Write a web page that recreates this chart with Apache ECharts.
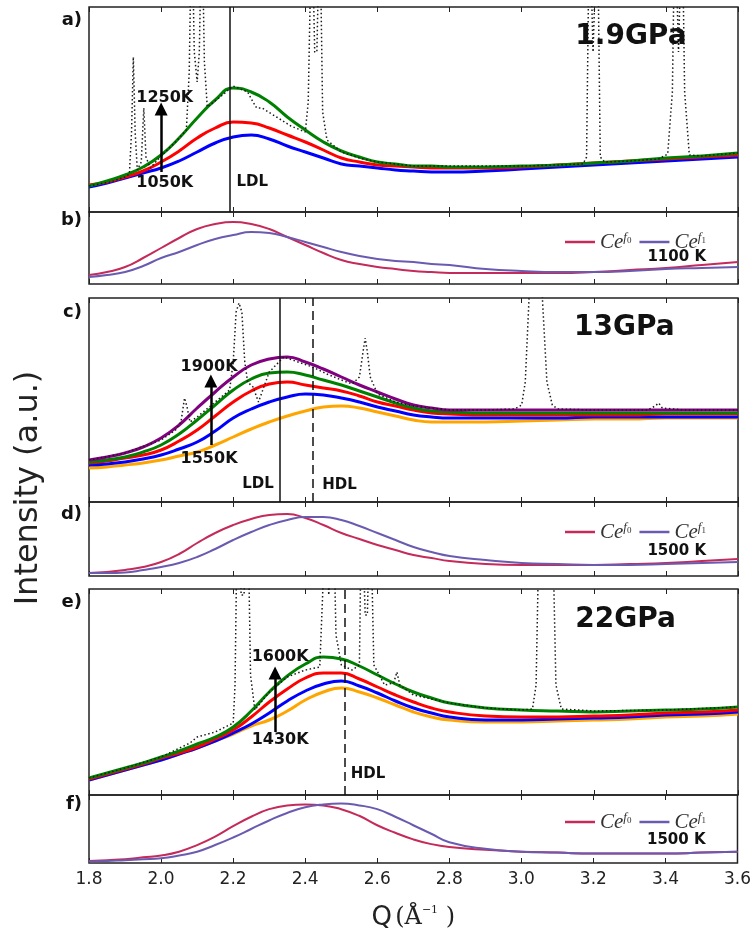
<!DOCTYPE html>
<html><head><meta charset="utf-8">
<script src="https://cdn.jsdelivr.net/npm/echarts@6/dist/echarts.min.js"></script>
<style>html,body{margin:0;padding:0;background:#fff}#c{width:754px;height:932px}</style>
</head><body><div id="c"></div>
<script>
// ---------- DATA ----------
const Q = [1.8,1.85,1.9,1.95,2.0,2.05,2.1,2.15,2.2,2.25,2.3,2.35,2.4,2.45,2.5,2.55,2.6,2.65,2.7,2.75,2.8,
           2.9,3.0,3.1,3.2,3.3,3.4,3.5,3.6];

// a) 1.9 GPa  (1050K blue, red, 1250K green)
const blueA  = [25,29,34,39,44,51,60,69,75,77,73,66,60,54,48,46,44,42,41,40,40, 41,43,45,47,49,51,53,55];
const redA   = [27,30,35,41,50,61,74,84,90,89,84,77,70,62,54,50,47,46,45,44,44, 44,45,47,49,51,53,55,57];
const greenA = [26,31,37,45,57,74,94,112,124,120,110,95,82,70,61,55,50,48,46,46,45, 45,46,47,49,51,54,56,59];
const dotA = [[1.8,26],[1.86,30],[1.9,35],[1.912,38],[1.918,80],[1.923,155],[1.928,80],[1.934,42],[1.945,50],[1.952,104],[1.958,55],[1.97,44],[2.0,56],[2.04,70],[2.07,82],[2.078,140],[2.085,300],[2.092,160],[2.1,130],[2.106,160],[2.113,300],[2.12,150],[2.128,105],[2.16,114],[2.2,126],[2.24,120],[2.255,110],[2.265,104],[2.28,104],[2.32,95],[2.36,86],[2.4,80],[2.408,110],[2.418,300],[2.426,160],[2.432,160],[2.44,300],[2.448,100],[2.46,72],[2.5,60],[2.55,54],[2.6,50],[2.7,46],[2.8,46],[3.0,46],[3.1,47],[3.17,48],[3.18,55],[3.188,300],[3.198,160],[3.202,160],[3.21,300],[3.218,55],[3.23,50],[3.3,51],[3.38,53],[3.405,58],[3.418,120],[3.425,300],[3.435,160],[3.44,160],[3.445,300],[3.452,120],[3.465,57],[3.5,56],[3.6,59]];

// b) 1100 K
const cephF0B = [9,12,17,26,36,46,55,60,62,60,55,47,39,31,24,20,17,15,13,12,11, 11,11,11,12,14,16,19,22];
const cephF1B = [7,9,12,18,26,32,39,45,49,52,51,47,42,37,32,28,25,23,22,20,19, 15,13,12,12,13,15,16,17];

// c) 13 GPa (1550K orange ... 1900K purple)
const purpleC = [42,45,49,55,64,77,94,110,125,137,143,145,140,133,125,117,110,103,97,94,92, 92,92,92,92,92,92,92,92];
const greenC  = [40,42,45,50,57,68,82,97,112,123,129,130,127,122,117,111,105,99,94,91,90, 89,89,89,89,89,89,89,89];
const redC    = [39,41,44,47,52,61,72,86,100,111,118,120,117,114,111,106,100,96,92,89,88, 87,87,87,87,87,88,88,88];
const blueC   = [37,38,40,43,47,53,60,71,84,93,100,105,108,107,104,100,95,91,87,85,84, 84,84,84,85,85,85,85,85];
const orangeC = [34,35,37,39,42,46,50,57,65,73,80,86,91,95,96,94,90,86,82,80,80, 80,81,82,83,83,84,84,84];
const dotC = [[1.8,42],[1.9,49],[2.0,62],[2.04,72],[2.055,80],[2.065,104],[2.072,95],[2.08,80],[2.1,85],[2.15,100],[2.19,112],[2.2,140],[2.208,190],[2.216,199],[2.224,190],[2.232,140],[2.24,120],[2.255,115],[2.27,100],[2.3,130],[2.34,145],[2.38,140],[2.42,135],[2.46,128],[2.5,122],[2.53,118],[2.55,125],[2.56,150],[2.566,164],[2.572,150],[2.58,125],[2.6,108],[2.65,100],[2.7,96],[2.8,92],[2.9,92],[2.98,93],[3.0,97],[3.01,120],[3.02,200],[3.028,300],[3.05,300],[3.058,200],[3.07,120],[3.085,97],[3.1,93],[3.2,92],[3.35,92],[3.37,96],[3.38,99],[3.39,94],[3.45,92],[3.6,92]];

// d) 1500 K
const cephF0D = [3,4,6,9,14,22,33,43,51,57,61,62,58,51,43,37,31,26,21,18,15, 12,11,11,11,12,13,15,17];
const cephF1D = [3,3,3.5,6,9,13,19,27,36,44,51,56,59,59,56,50,43,36,29,24,20, 16,13,12,11,11,12,13,14];

// e) 22 GPa (1430K orange ... 1600K green)
const greenE  = [17,22,27,32,38,44,51,58,68,84,103,119,131,138,136,129,120,111,103,97,92, 87,85,84,83,84,85,86,88];
const redE    = [16,21,26,31,37,42,48,56,65,78,93,106,117,122,122,116,108,100,93,87,83, 79,78,78,79,80,82,83,85];
const blueE   = [15,20,25,30,35,41,47,54,62,71,82,94,104,111,114,109,102,94,87,82,78, 75,75,76,77,78,80,81,83];
const orangeE = [15,20,25,30,35,41,47,54,61,69,75,84,95,103,107,103,97,90,83,78,75, 73,73,74,75,76,78,79,81];
const dotE = [[1.8,17],[1.9,27],[2.0,38],[2.08,52],[2.1,58],[2.15,63],[2.2,72],[2.205,110],[2.212,300],[2.222,200],[2.23,200],[2.24,300],[2.248,120],[2.26,85],[2.3,103],[2.35,118],[2.4,125],[2.44,128],[2.448,200],[2.455,300],[2.465,200],[2.47,200],[2.477,300],[2.485,160],[2.5,130],[2.53,125],[2.55,130],[2.556,300],[2.566,180],[2.572,180],[2.58,300],[2.59,130],[2.62,110],[2.645,112],[2.654,123],[2.662,110],[2.7,100],[2.8,92],[2.9,87],[3.0,85],[3.03,86],[3.04,110],[3.05,300],[3.084,300],[3.095,110],[3.11,86],[3.2,84],[3.4,85],[3.6,88]];

// f) 1500 K
const cephF0F = [2,3,4,6,8,12,19,28,39,49,57,61,62,61,57,50,40,32,25,20,17, 14,12,11,10,10,10,11,12];
const cephF1F = [1.5,2,3,4,5,8,12,19,27,36,45,53,59,62,63,61,57,49,40,31,22, 15,12,11,10,10,10,11,12];

// reference lines and annotations
const ldlA = 2.19, ldlC = 2.33, hdlC = 2.42, hdlE = 2.51;
const arrowA = [2.0, 40, 103], arrowC = [2.138, 57, 121], arrowE = [2.316, 63, 122];

// ---------- LAYOUT ----------
const panels = [
  {top:7,   h:205}, {top:212, h:72},
  {top:298, h:204}, {top:502, h:74},
  {top:589, h:206}, {top:795, h:72}
];
const C = {blue:'#0000ff', red:'#ff0000', green:'#008000', purple:'#800080', orange:'#ffa500',
           f0:'#c42a5a', f1:'#6b5bb0', ink:'#222'};
const pair = arr => Q.map((q,i)=>[q,arr[i]]);

const grid = panels.map(p => ({left:89, right:16, top:p.top, height:p.h, show:true,
  borderColor:C.ink, borderWidth:1.5, backgroundColor:'transparent'}));
const xAxis = [], yAxis = [];
panels.forEach((p,i)=>{
  const isLast = i === panels.length-1;
  xAxis.push({type:'value', gridIndex:i, position:'bottom', min:1.8, max:3.6, interval:0.2,
    axisLine:{show:false}, splitLine:{show:false},
    axisTick:{show:true, inside:true, length:5, lineStyle:{color:C.ink, width:1}},
    axisLabel:{show:isLast, fontFamily:'DejaVu Sans', fontSize:17, color:C.ink, margin:8,
      formatter:v=>v.toFixed(1)},
    name: isLast ? '{q|Q} {p|(Å}{s|−1}{p| )}' : '',
    nameLocation:'middle', nameGap:42,
    nameTextStyle:{rich:{q:{fontFamily:'DejaVu Sans', fontSize:26, color:C.ink},
      p:{fontFamily:'DejaVu Serif', fontSize:24, color:C.ink},
      s:{fontFamily:'DejaVu Serif', fontSize:11, color:C.ink, verticalAlign:'top'}}}
  });
  xAxis.push({type:'value', gridIndex:i, position:'top', min:1.8, max:3.6, interval:0.2,
    axisLine:{show:false}, splitLine:{show:false}, axisLabel:{show:false},
    axisTick:{show:true, inside:true, length:5, lineStyle:{color:C.ink, width:1}}});
  yAxis.push({type:'value', gridIndex:i, min:0, max:p.h, show:false, splitLine:{show:false}});
});

const curve = (name, data, color, gi, width, extra) => Object.assign({
  type:'line', name, xAxisIndex:gi*2, yAxisIndex:gi, data:pair(data), smooth:0.5,
  showSymbol:false, symbol:'none', lineStyle:{color, width}, itemStyle:{color}, silent:true,
  animation:false, z:3
}, extra||{});

const vline = (q, dashed) => ({xAxis:q, lineStyle:{color:'#111', width:1.5, type: dashed?[9,5]:'solid'}});
const txt = (q, v, s, size) => ({coord:[q,v], value:s, label:{fontSize:size||16}});
const markText = list => ({symbol:'circle', symbolSize:0, silent:true,
  label:{show:true, position:'inside', fontFamily:'DejaVu Sans', fontWeight:'bold', color:'#111',
    formatter:p=>p.value}, data:list});
const markArrow = a => ({silent:true, symbol:['none','triangle'], symbolSize:13,
  lineStyle:{color:'#000', width:2.5, type:'solid'}, label:{show:false},
  data:[[{coord:[a[0],a[1]]},{coord:[a[0],a[2]]}]]});
const dotted = (data, gi, marks) => ({type:'line', xAxisIndex:gi*2, yAxisIndex:gi, data, showSymbol:false,
  symbol:'none', lineStyle:{color:'#1a1a1a', width:1.5, type:[1.5,2.5]}, silent:true, animation:false, z:4,
  markPoint:marks.text, markLine:marks.arrow});

const series = [
  // a
  curve('a1050', blueA, C.blue, 0, 3, {markLine:{symbol:'none', silent:true, label:{show:false}, data:[vline(ldlA,false)]}}),
  curve('a1150', redA, C.red, 0, 3),
  curve('a1250', greenA, C.green, 0, 3),
  dotted(dotA, 0, {text:markText([txt(2.01,114.5,'1250K'),txt(2.01,29.5,'1050K'),txt(2.253,29.5,'LDL',15),txt(3.303,175,'1.9GPa',28)]),
    arrow:markArrow(arrowA)}),
  // b
  curve('Ce_f0', cephF0B, C.f0, 1, 2, {markPoint:markText([txt(3.43,27,'1100 K',15)])}),
  curve('Ce_f1', cephF1B, C.f1, 1, 2),
  // c
  curve('c1550', orangeC, C.orange, 2, 3, {markLine:{symbol:'none', silent:true, label:{show:false}, data:[vline(ldlC,false), vline(hdlC,true)]}}),
  curve('c1600', blueC, C.blue, 2, 3),
  curve('c1700', redC, C.red, 2, 3),
  curve('c1800', greenC, C.green, 2, 3),
  curve('c1900', purpleC, C.purple, 2, 3),
  dotted(dotC, 2, {text:markText([txt(2.133,135,'1900K'),txt(2.133,43.5,'1550K'),txt(2.269,17.5,'LDL',15),txt(2.495,17,'HDL',15),txt(3.285,174,'13GPa',28)]),
    arrow:markArrow(arrowC)}),
  // d
  curve('Ce_f0', cephF0D, C.f0, 3, 2, {markPoint:markText([txt(3.43,25,'1500 K',15)])}),
  curve('Ce_f1', cephF1D, C.f1, 3, 2),
  // e
  curve('e1430', orangeE, C.orange, 4, 3, {markLine:{symbol:'none', silent:true, label:{show:false}, data:[vline(hdlE,true)]}}),
  curve('e1500', blueE, C.blue, 4, 3),
  curve('e1550', redE, C.red, 4, 3),
  curve('e1600', greenE, C.green, 4, 3),
  dotted(dotE, 4, {text:markText([txt(2.33,138,'1600K'),txt(2.33,55.5,'1430K'),txt(2.574,21,'HDL',15),txt(3.288,175,'22GPa',28)]),
    arrow:markArrow(arrowE)}),
  // f
  curve('Ce_f0', cephF0F, C.f0, 5, 2, {markPoint:markText([txt(3.43,24.5,'1500 K',15)])}),
  curve('Ce_f1', cephF1F, C.f1, 5, 2)
];

const legRich = {
  ce:{fontFamily:'Liberation Serif', fontStyle:'italic', fontSize:21, lineHeight:22, color:'#333'},
  sup:{fontFamily:'Liberation Serif', fontStyle:'italic', fontSize:13, lineHeight:12, verticalAlign:'top', color:'#333'},
  sub:{fontFamily:'Liberation Serif', fontSize:9, lineHeight:8, verticalAlign:'top', padding:[5,0,0,0], color:'#333'}
};
const legend = [226, 516, 806].map(t => ({
  left:560, top:t, data:['Ce_f0','Ce_f1'], icon:'rect', itemWidth:30, itemHeight:2.5, itemGap:8,
  selectedMode:false,
  formatter: n => n==='Ce_f0' ? '{ce|Ce}{sup|f}{sub|0}' : '{ce|Ce}{sup|f}{sub|1}',
  textStyle:{rich:legRich}
}));

const labelPos = [['a)',20],['b)',220],['c)',312],['d)',514],['e)',602],['f)',804]];
const graphic = labelPos.map(l => ({type:'text', x:82, y:l[1], style:{text:l[0], font:'bold 18px "DejaVu Sans"',
  fill:'#111', align:'right', verticalAlign:'middle'}}));
graphic.push({type:'text', x:29, y:488, rotation:Math.PI/2, style:{text:'Intensity (a.u.)',
  font:'32px "DejaVu Sans"', fill:C.ink, align:'center', verticalAlign:'middle'}});

const chart = echarts.init(document.getElementById('c'), null, {renderer:'canvas'});
chart.setOption({animation:false, backgroundColor:'#fff', grid, xAxis, yAxis, series, legend, graphic});
</script></body></html>
